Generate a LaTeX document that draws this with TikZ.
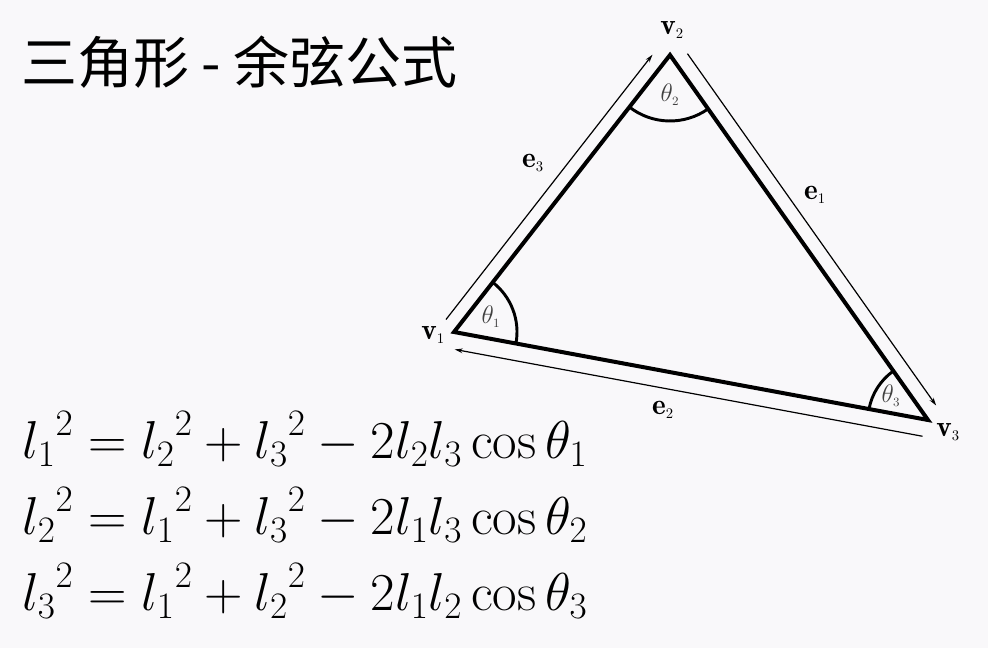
\documentclass[tikz,border=0pt]{standalone}
\usepackage{fix-cm}
\usepackage{amsmath}
\usepackage{amssymb}
\usepackage{fontspec}
\newfontfamily\cjk{Noto Sans CJK SC}
\usepackage{tikz}
\usetikzlibrary{calc,arrows.meta}
\definecolor{pagebg}{RGB}{249,248,250}

\begin{document}
\begin{tikzpicture}[x=0.75pt,y=0.75pt,yscale=-1,xscale=1,
  side/.style={line width=3pt},
  anglearc/.style={line width=2.2pt},
  edgevec/.style={line width=0.9pt,-{Stealth[length=6pt,width=3.5pt]}},
  vlabel/.style={inner sep=0.75pt,font=\fontsize{22}{24}\selectfont},
  tlabel/.style={inner sep=0.75pt,text=black!75,font=\fontsize{19}{22}\selectfont},
  eqline/.style={anchor=base west,inner sep=0pt,font=\fontsize{40}{46}\selectfont}]
%set diagram size 988 x 648
\fill[pagebg] (0,0) rectangle (988,648);
\useasboundingbox (0,0) rectangle (988,648);

% Title
\node[anchor=west,inner sep=0pt,font=\cjk\fontsize{42}{48}\selectfont] (title) at (21,62) {三角形 - 余弦公式};

% Vertices
\coordinate (v1) at (454,332);
\coordinate (v2) at (670,55);
\coordinate (v3) at (928,420);

% Triangle
\draw[side] (v1) -- (v2) -- (v3) -- cycle;

% Angle arcs
\draw[anglearc] (v1) ++(-52.05:63) arc[start angle=-52.05,end angle=10.52,radius=63];
\draw[anglearc] (v2) ++(54.74:66) arc[start angle=54.74,end angle=127.95,radius=66];
\draw[anglearc] (v3) ++(190.52:60) arc[start angle=190.52,end angle=234.74,radius=60];

% Edge vectors
\draw[edgevec] ($(v1)!0.014!(v2)!10.5pt!-90:(v2)$) -- ($(v2)!0.03!(v1)!10.5pt!90:(v1)$);
\draw[edgevec] ($(v2)!0.02!(v3)!11.25pt!-90:(v3)$) -- ($(v3)!0.016!(v2)!11.25pt!90:(v2)$);
\draw[edgevec] ($(v3)!0.005!(v1)!12.75pt!-90:(v1)$) -- ($(v1)!0.008!(v3)!12.75pt!90:(v3)$);

% Vertex labels
\node[vlabel] (lv1) at (433,335) {$\mathbf{v}_{\scriptscriptstyle 1}$};
\node[vlabel] (lv2) at (672,30) {$\mathbf{v}_{\scriptscriptstyle 2}$};
\node[vlabel] (lv3) at (948,432) {$\mathbf{v}_{\scriptscriptstyle 3}$};
% Edge labels
\node[vlabel] (le1) at (815,195) {$\mathbf{e}_{\scriptscriptstyle 1}$};
\node[vlabel] (le2) at (663,410) {$\mathbf{e}_{\scriptscriptstyle 2}$};
\node[vlabel] (le3) at (533,163) {$\mathbf{e}_{\scriptscriptstyle 3}$};
% Angle labels
\node[tlabel] (lt1) at (491,317) {$\theta_{\scriptscriptstyle 1}$};
\node[tlabel] (lt2) at (670,95) {$\theta_{\scriptscriptstyle 2}$};
\node[tlabel] (lt3) at (891,396) {$\theta_{\scriptscriptstyle 3}$};

% Formulas
\node[eqline] (eq1) at (22,458) {${l_1}^2 = {l_2}^2 + {l_3}^2 - 2l_2l_3\cos\theta_1$};
\node[eqline] (eq2) at (22,534) {${l_2}^2 = {l_1}^2 + {l_3}^2 - 2l_1l_3\cos\theta_2$};
\node[eqline] (eq3) at (22,610) {${l_3}^2 = {l_1}^2 + {l_2}^2 - 2l_1l_2\cos\theta_3$};

\end{tikzpicture}
\end{document}
